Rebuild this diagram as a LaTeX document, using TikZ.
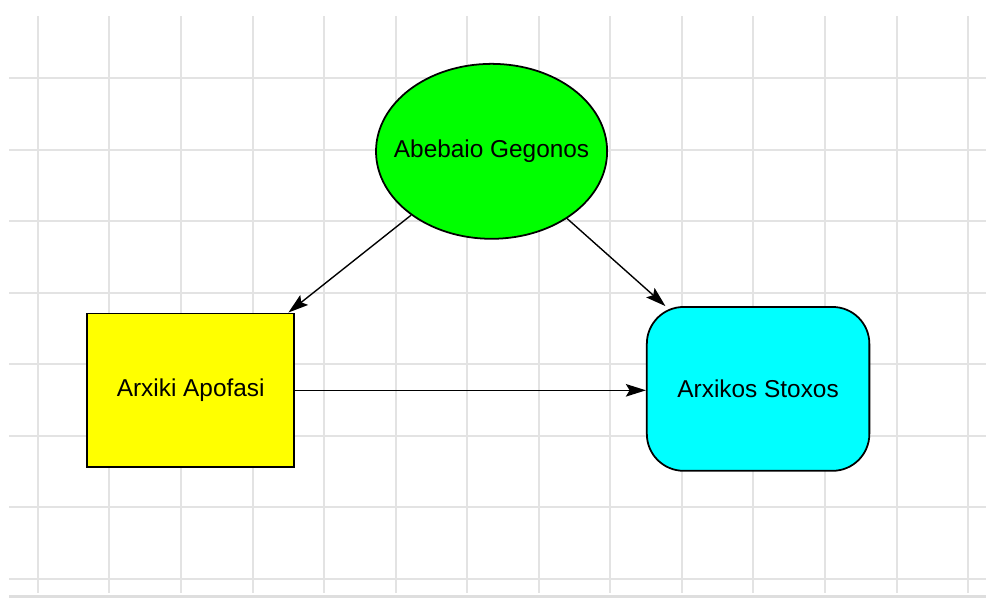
\documentclass[tikz,border=0pt]{standalone}
\usepackage{fontspec}
\setmainfont{Liberation Sans}
\usetikzlibrary{arrows.meta, shapes.geometric}
\definecolor{evgreen}{RGB}{0,255,0}
\definecolor{decyellow}{RGB}{255,255,0}
\definecolor{goalcyan}{RGB}{0,255,255}

\begin{document}
\begin{tikzpicture}
        \tikzset{factor/.style = {draw, line width=1.4pt, inner sep=0pt, font=\fontsize{19.4}{23}\selectfont}}
        \tikzset{edge/.style = {-{Stealth[length=16pt,width=10pt,inset=3pt]}, line width=1.1pt}}
        \tikzset{gridline/.style = {draw=black!11, line width=1.6pt}}
        \useasboundingbox (0,0) rectangle (27.56,16.71);
        % background grid
        \foreach \x in {0,...,13}
          \draw[gridline] (1.06+2*\x, 0.14) -- (1.06+2*\x, 16.27);
        \foreach \y in {0,...,7}
          \draw[gridline] (0.25, 0.53+2*\y) -- (27.56, 0.53+2*\y);
        \fill[black!13] (0.25,0) rectangle (27.56,0.08);
        % nodes
        \node[factor, ellipse, fill=evgreen, minimum width=6.46cm, minimum height=4.89cm] (gegonos) at (13.74, 12.48) {\makebox[0pt]{Abebaio Gegonos}};
        \node[factor, rectangle, fill=decyellow, minimum width=5.79cm, minimum height=4.30cm] (apofasi) at (5.33, 5.80) {Arxiki Apofasi};
        \node[factor, rectangle, rounded corners=1.03cm, fill=goalcyan, minimum width=6.22cm, minimum height=4.58cm] (stoxos) at (21.19, 5.84) {Arxikos Stoxos};
        % edges
        \draw[edge] (gegonos) to (apofasi);
        \draw[edge] (gegonos) to (stoxos);
        \draw[edge] (apofasi.east) to (apofasi.east -| stoxos.west);
      \end{tikzpicture}
\end{document}
